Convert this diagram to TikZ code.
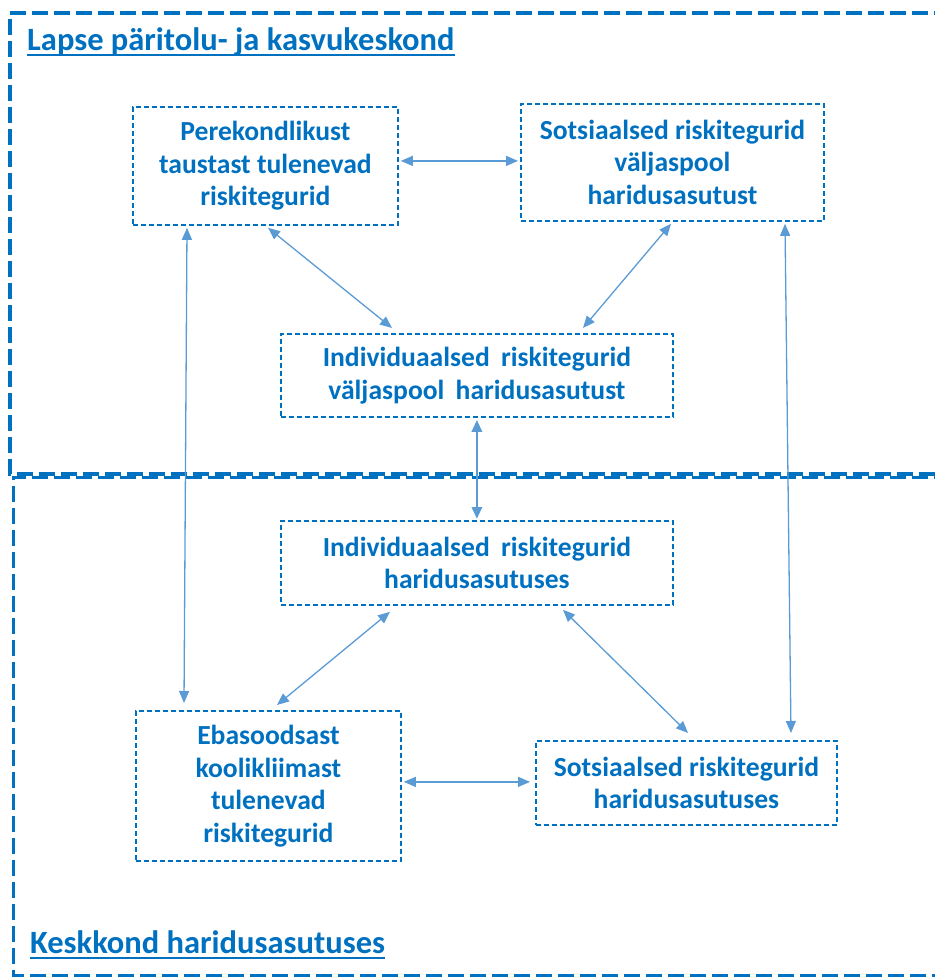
\documentclass[tikz,border=0pt]{standalone}
\usepackage{fontspec}
\setmainfont{Carlito}
\usetikzlibrary{arrows.meta,calc}
\definecolor{dblue}{HTML}{0070C0}
\definecolor{lblue}{HTML}{5B9BD5}
\begin{document}
\begin{tikzpicture}[x=1pt,y=-1pt,
 box/.style={draw=dblue, line width=1.8pt, dash pattern=on 5pt off 3pt, text=dblue,
   font=\fontsize{27.6}{32.5}\selectfont\bfseries, align=center, inner sep=0pt, anchor=north west},
 arr/.style={draw=lblue, line width=1.3pt, {Triangle[length=12pt,width=10pt]}-{Triangle[length=12pt,width=10pt]}},
 arrthick/.style={arr, line width=2.8pt},
 title/.style={text=dblue, font=\fontsize{32.5}{38}\selectfont\bfseries, inner sep=0pt, anchor=base west},
 uline/.style={draw=dblue, line width=2pt}]
\useasboundingbox (0,0) rectangle (935,978);
\clip (0,0) rectangle (935,978);
% frames (right sides run off the picture)
\coordinate (f2a) at (950,477);
\coordinate (f2b) at (13,477);
\coordinate (f2c) at (13,975);
\coordinate (f2d) at (950,975);
\coordinate (f1a) at (950,13);
\coordinate (f1b) at (10,13);
\coordinate (f1c) at (10,474);
\coordinate (f1d) at (950,474);
\draw[dblue, line width=3pt, dash pattern=on 16pt off 6pt] (f2a) -- (f2b) -- (f2c) -- (f2d);
\draw[dblue, line width=4pt, dash pattern=on 16pt off 6pt] (f1a) -- (f1b) -- (f1c) -- (f1d);
% titles
\node[title] (t1) at (27,50) {Lapse päritolu- ja kasvukeskond};
\draw[uline] ($(t1.base west)+(0,5)$) -- ($(t1.base east)+(0,5)$);
\node[title] (t2) at (30,953) {Keskkond haridusasutuses};
\draw[uline] ($(t2.base west)+(0,5)$) -- ($(t2.base east)+(0,5)$);
% boxes
\node[box, minimum width=265pt, minimum height=118pt] (b1) at (132,106)
  {Perekondlikust\\taustast tulenevad\\riskitegurid};
\node[box, minimum width=303pt, minimum height=117pt] (b2) at (520,103)
  {Sotsiaalsed riskitegurid\\väljaspool\\haridusasutust};
\node[box, minimum width=392pt, minimum height=83pt] (b3) at (280,333)
  {Individuaalsed\hspace{5pt} riskitegurid\\väljaspool\hspace{5pt} haridusasutust};
\node[box, minimum width=392pt, minimum height=84pt] (b4) at (280,520)
  {Individuaalsed\hspace{5pt} riskitegurid\\haridusasutuses};
\node[box, minimum width=265pt, minimum height=150pt] (b5) at (135,710)
  {Ebasoodsast\\koolikliimast\\tulenevad\\riskitegurid};
\node[box, minimum width=301pt, minimum height=84pt] (b6) at (535,740)
  {Sotsiaalsed riskitegurid\\haridusasutuses};
% connectors
\draw[arr] ($(b1.east)+(2,-5)$) -- ($(b2.west)+(-2,-1.5)$);
\draw[arr] ($(b1.south west)+(55,2)$) -- ($(b5.north west)+(49,-7)$);
\draw[arr] ($(b1.south west)+(136,2)$) -- ($(b3.north west)+(112,-5)$);
\draw[arr] ($(b2.south west)+(151,2)$) -- ($(b3.north west)+(303,-5)$);
\draw[arr] ($(b2.south west)+(265,2)$) -- ($(b6.north west)+(256,-7)$);
\draw[arrthick] ($(b3.south)+(0,2)$) -- ($(b4.north)+(0,-1)$);
\draw[arr] ($(b4.south west)+(110,6)$) -- ($(b5.north west)+(142,-5)$);
\draw[arr] ($(b4.south west)+(283,4)$) -- ($(b6.north west)+(153,-7)$);
\draw[arr] ($(b5.east)+(2,-4)$) -- ($(b6.west)+(-5,-1)$);
\end{tikzpicture}
\end{document}
